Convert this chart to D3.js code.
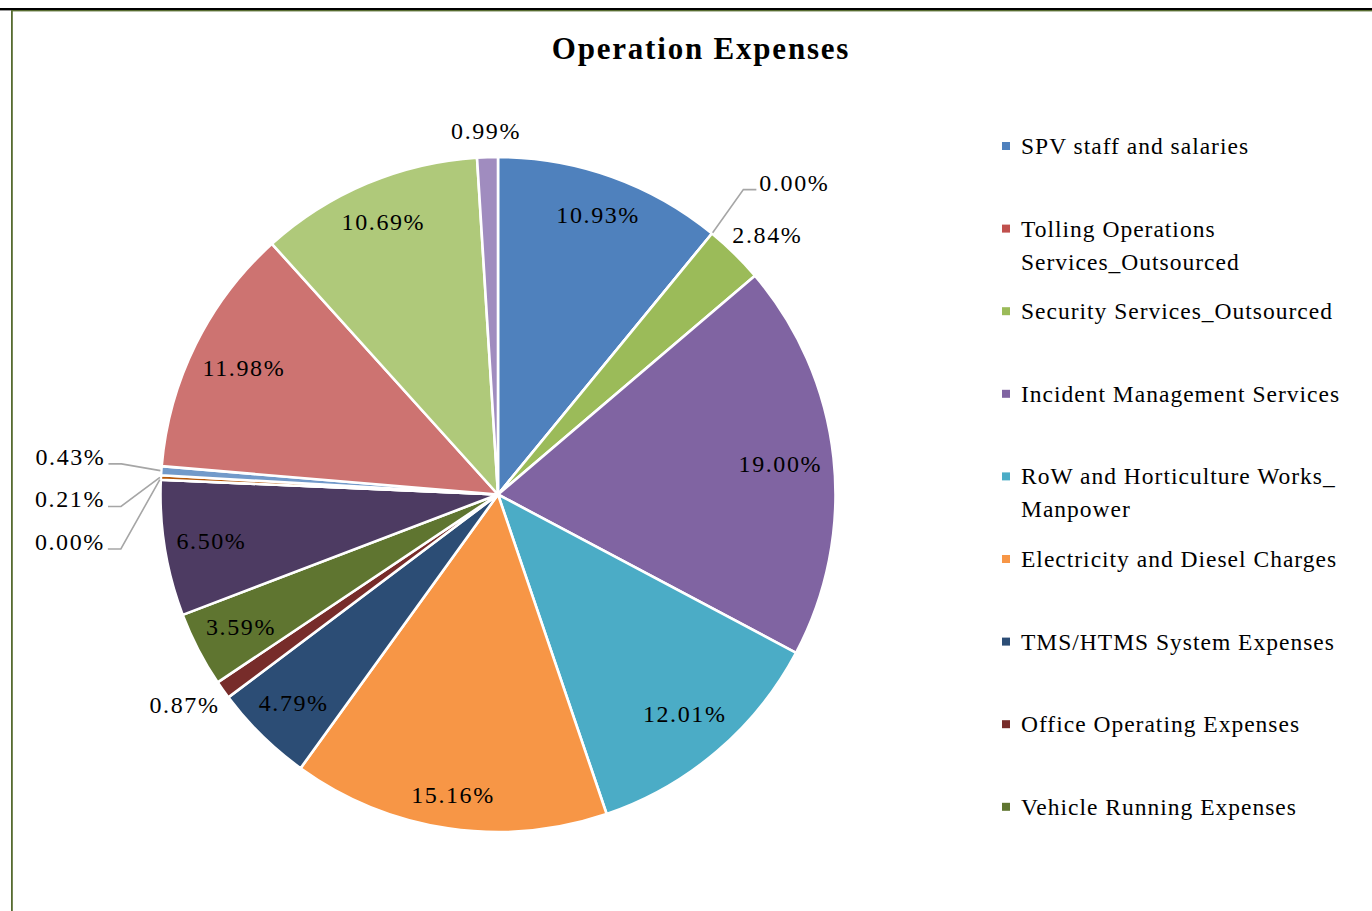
<!DOCTYPE html>
<html><head><meta charset="utf-8">
<script src="https://cdn.jsdelivr.net/npm/d3@7"></script>
<style>body{margin:0;background:#fff;} svg{display:block}</style>
</head><body>
<svg id="chart" width="1372" height="911"></svg>
<script>
const title = "Operation Expenses";
const categories = [
  "SPV staff and salaries",
  "Tolling Operations Services_Outsourced",
  "Security Services_Outsourced",
  "Incident Management Services",
  "RoW and Horticulture Works_ Manpower",
  "Electricity and Diesel Charges",
  "TMS/HTMS System Expenses",
  "Office Operating Expenses",
  "Vehicle Running Expenses",
  "Item 10", "Item 11", "Item 12", "Item 13", "Item 14", "Item 15", "Item 16"
];
const values = [10.93, 0.00, 2.84, 19.00, 12.01, 15.16, 4.79, 0.87, 3.59, 6.50, 0.00, 0.21, 0.43, 11.98, 10.69, 0.99];
const colors = ["#4F81BD","#C0504D","#9BBB59","#8064A2","#4BACC6","#F79646","#2C4D75","#772C2A","#5F7530","#4D3B62","#276A7C","#B65708","#729ACA","#CD7371","#AFC97A","#A08CBF"];
const legendVisible = 9;

const W = 1372, H = 911;
const svg = d3.select("#chart");
const font = "'Liberation Serif','Times New Roman',serif";

// frame
svg.append("rect").attr("x",0).attr("y",8).attr("width",W).attr("height",2.4).attr("fill","#000");
svg.append("rect").attr("x",11).attr("y",10).attr("width",W-11).attr("height",1.4).attr("fill","#566B30");
svg.append("rect").attr("x",11).attr("y",10).attr("width",1.8).attr("height",H-10).attr("fill","#566B30");

svg.append("text").attr("x",701).attr("y",59).attr("text-anchor","middle")
  .attr("font-family",font).attr("font-weight","bold").attr("font-size",31)
  .attr("letter-spacing",1.8).attr("fill","#000").text(title);

const cx = 498, cy = 494.5, r = 337.5;
const g = svg.append("g").attr("transform",`translate(${cx},${cy})`);
const pie = d3.pie().sort(null).value(d=>d);
const arcs = pie(values);
const arc = d3.arc().innerRadius(0).outerRadius(r);
const color = d3.scaleOrdinal().domain(d3.range(values.length)).range(colors);

g.selectAll("path.slice").data(arcs).join("path").attr("class","slice")
  .attr("d",arc).attr("fill",(d,i)=>color(i))
  .attr("stroke","#fff").attr("stroke-width",2.6).attr("stroke-linejoin","round");

const fmt = v => d3.format(".2f")(v) + "%";
const lblSize = 24, lblH = 28;
const labelG = g.append("g");
const mid = d => (d.startAngle + d.endAngle)/2;

function mkText(t){
  return labelG.append("text").attr("font-family",font).attr("font-size",lblSize)
    .attr("letter-spacing",1.6).attr("fill","#000").attr("dominant-baseline","central").text(t);
}
const placed = [];
const overlaps = (a,b) => a.x0 < b.x1 && a.x1 > b.x0 && a.y0 < b.y1 && a.y1 > b.y0;

// inside and plain outside labels
const leaderItems = [];
const Rin = 0.97 * r;
arcs.forEach((d,i) => {
  const v = values[i], a = mid(d), s = Math.sin(a), c = -Math.cos(a);
  if (v >= 3) {
    const t = mkText(fmt(v)).attr("text-anchor","middle");
    const w = t.node().getComputedTextLength(), h = 30;
    // push box outward along the mid-angle until its far corner touches Rin
    const ax = Math.sign(s)*w/2, ay = Math.sign(c)*h/2;
    const k = s*ax + c*ay;
    const dist = -k + Math.sqrt(k*k - (ax*ax + ay*ay - Rin*Rin));
    t.attr("x", s*dist).attr("y", c*dist);
  } else if (v >= 0.5) {
    const t = mkText(fmt(v)).attr("text-anchor","middle");
    const w = t.node().getComputedTextLength();
    const ax = s*(r+12), ay = c*(r+12);
    const x = ax + s*w/2, y = ay + c*lblH/2;
    t.attr("x",x).attr("y",y);
    placed.push({x0:x-w/2-4,x1:x+w/2+4,y0:y-lblH/2-17,y1:y+lblH/2+17});
  } else {
    leaderItems.push({d,i,a,v});
  }
});

// leader labels
const Re = r + 40, segL = 13, gap = 3;
leaderItems.sort((p,q) => {
  const pr = Math.sin(p.a) >= 0, qr = Math.sin(q.a) >= 0;
  if (pr !== qr) return pr ? -1 : 1;
  return q.a - p.a;
});
leaderItems.forEach(it => {
  const s = Math.sin(it.a), c = -Math.cos(it.a);
  const right = s >= 0;
  const t = mkText(fmt(it.v)).attr("text-anchor", right ? "start" : "end");
  const w = t.node().getComputedTextLength();
  const ex = s*Re + (right ? 6 : 0);
  let ey = c*Re - 4;
  const boxFor = ey => {
    const ty = ey - 7;
    const tx0 = right ? ex+segL+gap : ex-segL-gap-w;
    return {ty, b:{x0:tx0-4,x1:tx0+w+4,y0:ty-lblH/2-7,y1:ty+lblH/2+7}};
  };
  let info = boxFor(ey), guard = 0;
  const dir = right ? -1 : 1;
  while (placed.some(p => overlaps(p, info.b)) && guard++ < 400) {
    ey += dir; info = boxFor(ey);
  }
  placed.push(info.b);
  const px = s*(r+1), py = c*(r+1);
  const hx = ex + (right?segL:-segL);
  labelG.append("path").attr("d",`M${px},${py}L${ex},${ey}L${hx},${ey}`)
    .attr("fill","none").attr("stroke","#A6A6A6").attr("stroke-width",1.6);
  t.attr("x", right ? hx+gap : hx-gap).attr("y", info.ty);
});

// legend
const lg = svg.append("g");
const legX = 1002, legTextX = 1021, legY0 = 146, legStep = 82.6, lineH = 33, maxW = 345;
const legFont = 23.5, legLS = 1.0;
categories.slice(0, legendVisible).forEach((name,i) => {
  const y = legY0 + i*legStep;
  lg.append("rect").attr("x",legX).attr("y",y-4).attr("width",8).attr("height",8).attr("fill",color(i));
  const t = lg.append("text").attr("font-family",font).attr("font-size",legFont).attr("letter-spacing",legLS)
    .attr("fill","#000").attr("x",legTextX).attr("y",y).attr("dominant-baseline","central");
  const words = name.split(" ");
  const lines = []; let cur = "";
  const probe = lg.append("text").attr("font-family",font).attr("font-size",legFont).attr("letter-spacing",legLS);
  words.forEach(wd => {
    const trial = cur ? cur + " " + wd : wd;
    probe.text(trial);
    if (probe.node().getComputedTextLength() > maxW && cur) { lines.push(cur); cur = wd; }
    else cur = trial;
  });
  if (cur) lines.push(cur);
  probe.remove();
  lines.forEach((ln,k) => t.append("tspan").attr("x",legTextX).attr("dy",k===0?0:lineH).text(ln));
});
</script>
</body></html>
